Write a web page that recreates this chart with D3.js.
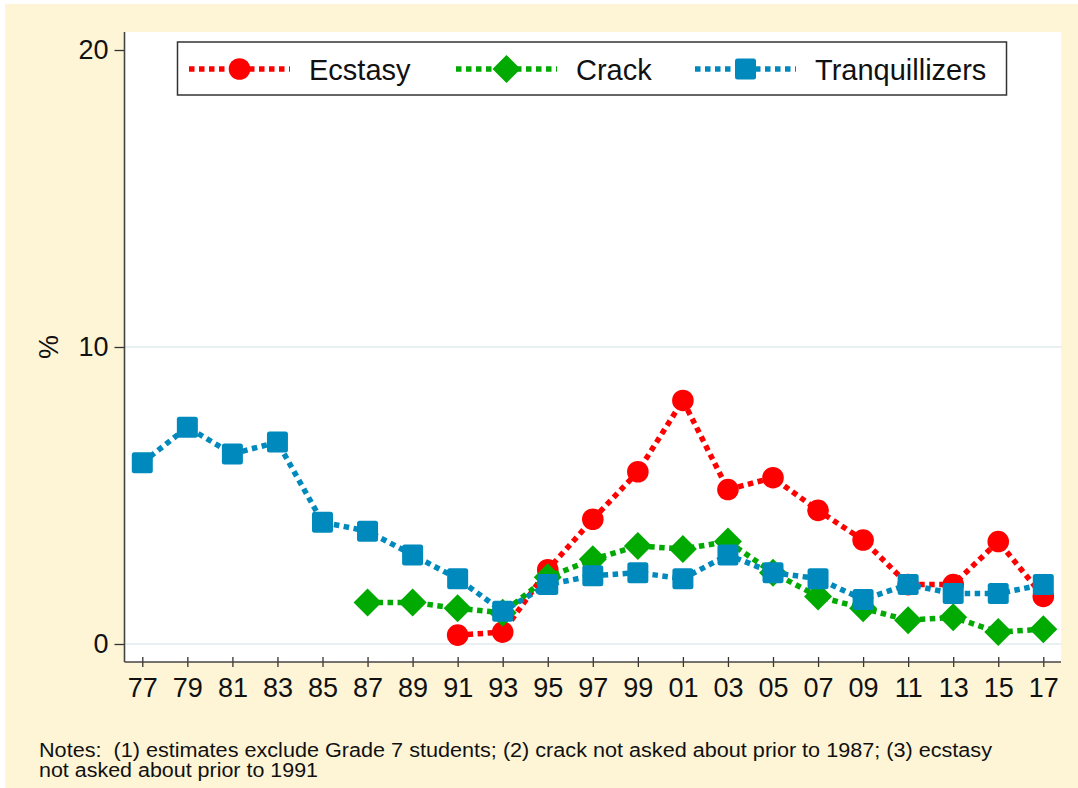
<!DOCTYPE html>
<html>
<head>
<meta charset="utf-8">
<script src="https://cdn.jsdelivr.net/npm/d3@7"></script>
<style>
  html, body { margin: 0; padding: 0; background: #ffffff; }
  svg { display: block; font-family: "Liberation Sans", Arial, Helvetica, sans-serif; }
</style>
</head>
<body>
<svg id="chart" width="1078" height="788"></svg>
<script>
// ---- data ----
const years = [1977,1979,1981,1983,1985,1987,1989,1991,1993,1995,1997,1999,2001,2003,2005,2007,2009,2011,2013,2015,2017];
const yearLabels = ["77","79","81","83","85","87","89","91","93","95","97","99","01","03","05","07","09","11","13","15","17"];
const ecstasy = [null,null,null,null,null,null,null,0.3,0.4,2.5,4.2,5.8,8.2,5.2,5.6,4.5,3.5,2.0,2.0,3.45,1.6];
const crack = [null,null,null,null,null,1.4,1.4,1.2,1.05,2.25,2.85,3.3,3.2,3.45,2.4,1.6,1.2,0.8,0.9,0.4,0.5];
const tranquillizers = [6.1,7.3,6.4,6.8,4.1,3.8,3.0,2.2,1.1,2.0,2.3,2.4,2.2,3.0,2.4,2.2,1.5,2.0,1.7,1.7,2.0];
const yTicks = [0, 10, 20];
const gridTicks = [0, 10];
const seriesNames = ["Ecstasy", "Crack", "Tranquillizers"];
const seriesColors = ["#ff0000", "#00aa00", "#0089bd"];
const seriesShapes = ["circle", "diamond", "square"];
const notesLines = [
  "Notes:\u00a0 (1) estimates exclude Grade 7 students; (2) crack not asked about prior to 1987; (3) ecstasy",
  "not asked about prior to 1991"
];
const notesWidths = [953, 279];

// ---- layout ----
const svg = d3.select("#chart");
const plot = { left: 124.5, right: 1061, top: 32, bottom: 662 };

svg.append("rect").attr("x", 5).attr("y", 4).attr("width", 1073).attr("height", 784).attr("fill", "#fef5d7");
svg.append("rect").attr("x", plot.left).attr("y", plot.top)
  .attr("width", plot.right - plot.left).attr("height", plot.bottom - plot.top).attr("fill", "#ffffff");

const x = d3.scaleLinear().domain([1977, 2017]).range([142.3, 1043.3]);
const y = d3.scaleLinear().domain([0, 20]).range([644, 50]);

// gridlines
svg.append("g").selectAll("line").data(gridTicks).join("line")
  .attr("x1", plot.left).attr("x2", plot.right)
  .attr("y1", d => y(d)).attr("y2", d => y(d))
  .attr("stroke", "#e2ebee").attr("stroke-width", 1.6);

// y axis
const yAxis = svg.append("g").attr("transform", `translate(${plot.left},0)`)
  .call(d3.axisLeft(y).tickValues(yTicks).tickSize(10).tickPadding(6).tickFormat(d3.format("d")));
yAxis.select(".domain").remove();
yAxis.selectAll(".tick line").attr("stroke", "#333").attr("stroke-width", 1.3);
yAxis.selectAll(".tick text").attr("font-size", 27).attr("fill", "#111").attr("font-family", "Liberation Sans, Arial, sans-serif");
svg.append("line").attr("x1", plot.left).attr("x2", plot.left).attr("y1", plot.top).attr("y2", plot.bottom)
  .attr("stroke", "#444").attr("stroke-width", 1.6);

// x axis
const xAxis = svg.append("g").attr("transform", `translate(0,${plot.bottom})`)
  .call(d3.axisBottom(x).tickValues(years).tickSize(5).tickPadding(11)
    .tickFormat((d, i) => yearLabels[i]));
xAxis.select(".domain").remove();
xAxis.selectAll(".tick line").attr("y1", -5).attr("stroke", "#333").attr("stroke-width", 1.3);
xAxis.selectAll(".tick text").attr("font-size", 27).attr("fill", "#111").attr("font-family", "Liberation Sans, Arial, sans-serif");
svg.append("line").attr("x1", plot.left).attr("x2", plot.right).attr("y1", plot.bottom).attr("y2", plot.bottom)
  .attr("stroke", "#444").attr("stroke-width", 1.6);

// y title
svg.append("text").attr("transform", "translate(58,347) rotate(-90)")
  .attr("text-anchor", "middle").attr("font-size", 27).attr("fill", "#111").text("%");

// ---- series ----
function marker(sel, shape, color) {
  if (shape === "circle") {
    sel.append("circle").attr("r", 10.8).attr("fill", color);
  } else if (shape === "diamond") {
    sel.append("path").attr("d", "M0,-14 L14,0 L0,14 L-14,0 Z").attr("fill", color);
  } else {
    sel.append("rect").attr("x", -10.5).attr("y", -10.5).attr("width", 21).attr("height", 21)
      .attr("rx", 2.5).attr("fill", color);
  }
}

const allSeries = [ecstasy, crack, tranquillizers];
const line = d3.line().defined(d => d.v !== null).x(d => x(d.year)).y(d => y(d.v));

allSeries.forEach((vals, si) => {
  const pts = years.map((yr, i) => ({ year: yr, v: vals[i] }));
  const g = svg.append("g");
  g.append("path").datum(pts).attr("d", line)
    .attr("fill", "none").attr("stroke", seriesColors[si]).attr("stroke-width", 5.5)
    .attr("stroke-dasharray", "5.5 4.5");
  pts.filter(p => p.v !== null).forEach(p => {
    const m = g.append("g").attr("transform", `translate(${x(p.year)},${y(p.v)})`);
    marker(m, seriesShapes[si], seriesColors[si]);
  });
});

// ---- legend ----
const legend = svg.append("g");
legend.append("rect").attr("x", 177.5).attr("y", 42).attr("width", 829).attr("height", 53)
  .attr("fill", "#ffffff").attr("stroke", "#333").attr("stroke-width", 1.5);
const keyStarts = [189, 456, 695];
const keyLen = 101;
const legY = 69;
seriesNames.forEach((name, si) => {
  const x0 = keyStarts[si];
  legend.append("line").attr("x1", x0).attr("x2", x0 + keyLen).attr("y1", legY).attr("y2", legY)
    .attr("stroke", seriesColors[si]).attr("stroke-width", 5.5).attr("stroke-dasharray", "5.5 4.5");
  const m = legend.append("g").attr("transform", `translate(${x0 + keyLen / 2},${legY})`);
  marker(m, seriesShapes[si], seriesColors[si]);
  legend.append("text").attr("x", x0 + 120).attr("y", legY + 10.5).attr("font-size", 29)
    .attr("fill", "#111").text(name);
});

// ---- notes ----
notesLines.forEach((t, i) => {
  svg.append("text").attr("x", 39).attr("y", 757 + i * 20).attr("font-size", 19.5)
    .attr("textLength", notesWidths[i]).attr("lengthAdjust", "spacingAndGlyphs")
    .attr("fill", "#111").text(t);
});
</script>
</body>
</html>
